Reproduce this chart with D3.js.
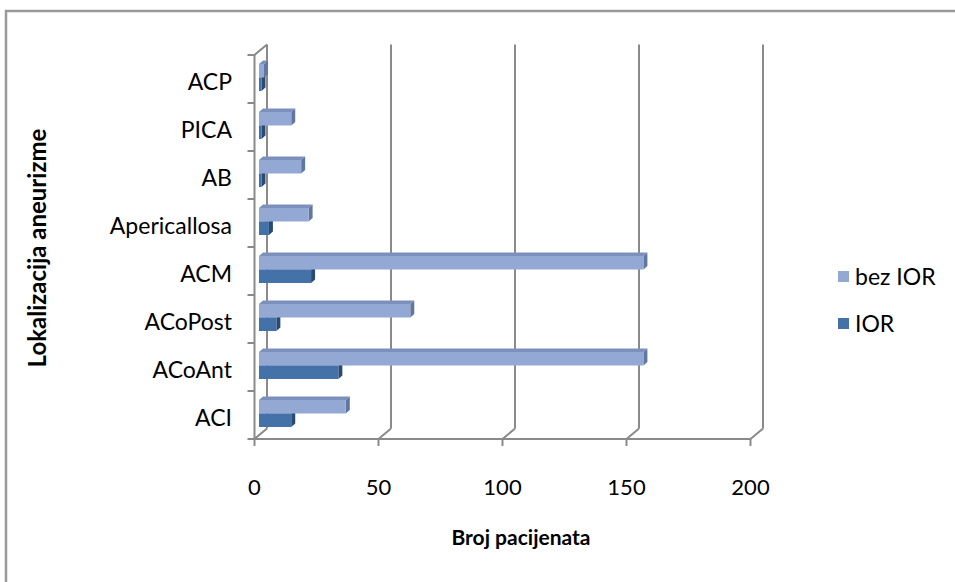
<!DOCTYPE html>
<html>
<head>
<meta charset="utf-8">
<script src="https://cdn.jsdelivr.net/npm/d3@7"></script>
<style>
  html, body { margin: 0; padding: 0; background: #ffffff; }
  svg text { font-family: Lato, "Liberation Sans", sans-serif; fill: #000; }
</style>
</head>
<body>
<svg id="chart" width="955" height="582"></svg>
<script>
// ---- data ----
const categories = ["ACI", "ACoAnt", "ACoPost", "ACM", "Apericallosa", "AB", "PICA", "ACP"];
const seriesNames = ["bez IOR", "IOR"];
const bezIOR = [35, 155, 61, 155, 20, 17, 13, 2];
const IOR    = [13, 32, 7, 21, 4, 1, 1, 1];
const xTicks = [0, 50, 100, 150, 200];
const xTitle = "Broj pacijenata";
const yTitle = "Lokalizacija aneurizme";
const colors = {
  "bez IOR": { front: "#94A8D4", top: "#7D90BC", side: "#62779F" },
  "IOR":     { front: "#4471A8", top: "#3A5F8E", side: "#2B4A72" }
};

const svg = d3.select("#chart");
const gridColor = "#8a8a8a";

// outer border
svg.append("rect").attr("x", 6).attr("y", 11).attr("width", 960).attr("height", 590)
  .attr("fill", "none").attr("stroke", "#999").attr("stroke-width", 2.5);

// geometry
const X0 = 254.5, Yfloor = 439, Ytop = 55;
const depth = { x: 12.5, y: -10.5 };       // front -> back wall
const barOff = { x: 4.5, y: -4 };          // front -> bar front face
const barDepth = { x: 4, y: -3.5 };        // bar thickness in depth

const x = d3.scaleLinear().domain([0, 200]).range([X0, X0 + 496]);
const y = d3.scaleBand().domain(categories).range([Yfloor, Ytop]).paddingInner(0).paddingOuter(0);
const ySer = d3.scaleBand().domain(seriesNames).range([9, 36]);

const g = svg.append("g");

// back wall verticals (gridlines)
xTicks.forEach(t => {
  g.append("line")
    .attr("x1", x(t) + depth.x).attr("y1", Yfloor + depth.y)
    .attr("x2", x(t) + depth.x).attr("y2", Ytop + depth.y)
    .attr("stroke", gridColor).attr("stroke-width", 2);
  g.append("line")
    .attr("x1", x(t)).attr("y1", Yfloor)
    .attr("x2", x(t) + depth.x).attr("y2", Yfloor + depth.y)
    .attr("stroke", gridColor).attr("stroke-width", 2);
  g.append("line")
    .attr("x1", x(t)).attr("y1", Yfloor)
    .attr("x2", x(t)).attr("y2", Yfloor + 7)
    .attr("stroke", gridColor).attr("stroke-width", 2);
});
g.append("line").attr("x1", x(0)).attr("y1", Yfloor).attr("x2", x(200)).attr("y2", Yfloor)
  .attr("stroke", gridColor).attr("stroke-width", 2);
g.append("line").attr("x1", X0).attr("y1", Ytop).attr("x2", X0).attr("y2", Yfloor)
  .attr("stroke", gridColor).attr("stroke-width", 2);
g.append("line").attr("x1", X0).attr("y1", Ytop).attr("x2", X0 + depth.x).attr("y2", Ytop + depth.y)
  .attr("stroke", gridColor).attr("stroke-width", 2);
const yBounds = categories.map(c => y(c)).concat([Yfloor]);
yBounds.forEach(v => {
  g.append("line").attr("x1", X0 - 7).attr("y1", v).attr("x2", X0).attr("y2", v)
    .attr("stroke", gridColor).attr("stroke-width", 2);
});

// x tick labels
g.selectAll(".xl").data(xTicks).enter().append("text")
  .attr("x", d => x(d)).attr("y", 495)
  .attr("text-anchor", "middle").attr("font-size", 22)
  .text(d => d);

// category labels
g.selectAll(".yl").data(categories).enter().append("text")
  .attr("x", 232).attr("y", d => y(d) + y.bandwidth() / 2 + 11)
  .attr("text-anchor", "end").attr("font-size", 23)
  .text(d => d);

// bars
const bars = [];
categories.forEach((c, i) => {
  bars.push({ cat: c, s: "IOR", v: IOR[i] });
  bars.push({ cat: c, s: "bez IOR", v: bezIOR[i] });
});
const bg = svg.append("g");
bars.forEach(b => {
  const xs = x(0) + barOff.x;
  const w = x(b.v) - x(0);
  const yt = y(b.cat) + ySer(b.s);
  const h = ySer.bandwidth();
  const col = colors[b.s];
  const bx = barDepth.x, by = barDepth.y;
  bg.append("polygon")
    .attr("points", [[xs, yt], [xs + w, yt], [xs + w + bx, yt + by], [xs + bx, yt + by]].map(p => p.join(",")).join(" "))
    .attr("fill", col.top);
  bg.append("polygon")
    .attr("points", [[xs + w, yt], [xs + w + bx, yt + by], [xs + w + bx, yt + h + by], [xs + w, yt + h]].map(p => p.join(",")).join(" "))
    .attr("fill", col.side);
  bg.append("rect").attr("x", xs).attr("y", yt).attr("width", w).attr("height", h)
    .attr("fill", col.front);
});

// axis titles
svg.append("text").attr("x", 521).attr("y", 545).attr("text-anchor", "middle")
  .attr("font-size", 21).attr("font-weight", "bold").text(xTitle);
svg.append("text").attr("transform", "translate(46,248) rotate(-90)").attr("text-anchor", "middle")
  .attr("font-size", 24).attr("font-weight", "bold").text(yTitle);

// legend
const leg = svg.append("g");
seriesNames.forEach((s, i) => {
  const ly = 277 + i * 47;
  leg.append("rect").attr("x", 838).attr("y", ly - 6).attr("width", 11).attr("height", 11)
    .attr("fill", colors[s].front);
  leg.append("text").attr("x", 855).attr("y", ly + 8).attr("font-size", 23).text(s);
});
</script>
</body>
</html>
